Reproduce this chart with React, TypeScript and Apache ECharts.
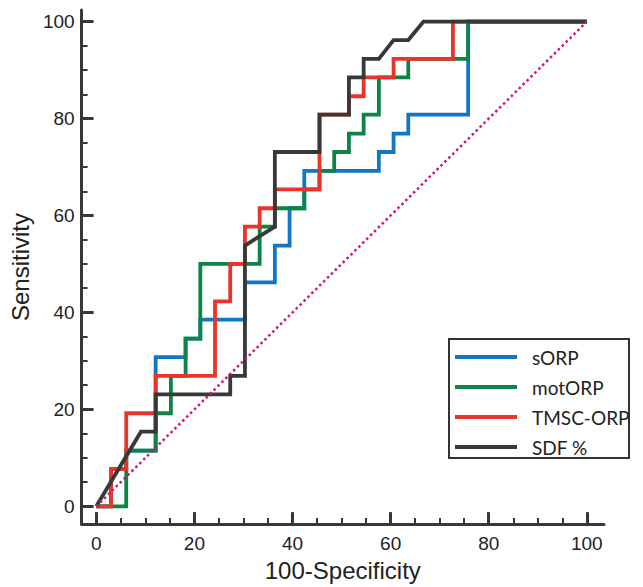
import React, { useEffect, useRef } from "react";
import * as echarts from "echarts";

const seriesNames = ["sORP", "motORP", "TMSC-ORP", "SDF %"];
const seriesColors = ["#1177c4", "#0c8445", "#e8352b", "#383838"];

const sorpPoints = [
  [0, 0], [3.0, 0], [3.0, 7.7], [6.1, 7.7], [6.1, 11.5], [12.1, 11.5], [12.1, 30.8],
  [18.2, 30.8], [18.2, 34.6], [21.2, 34.6], [21.2, 38.5], [30.3, 38.5], [30.3, 46.2],
  [36.4, 46.2], [36.4, 53.8], [39.4, 53.8], [39.4, 61.5], [42.4, 61.5], [42.4, 69.2],
  [57.6, 69.2], [57.6, 73.1], [60.6, 73.1], [60.6, 76.9], [63.6, 76.9], [63.6, 80.8],
  [75.8, 80.8], [75.8, 100], [100, 100],
];

const motorpPoints = [
  [0, 0], [6.1, 0], [6.1, 11.5], [12.1, 11.5], [12.1, 19.2], [15.2, 19.2], [15.2, 26.9],
  [18.2, 26.9], [18.2, 34.6], [21.2, 34.6], [21.2, 50], [33.3, 50], [33.3, 57.7],
  [36.4, 57.7], [36.4, 61.5], [42.4, 61.5], [42.4, 65.4], [45.5, 65.4], [45.5, 69.2],
  [48.5, 69.2], [48.5, 73.1], [51.5, 73.1], [51.5, 76.9], [54.5, 76.9], [54.5, 80.8],
  [57.6, 80.8], [57.6, 88.5], [63.6, 88.5], [63.6, 92.3], [75.8, 92.3], [75.8, 100],
  [100, 100],
];

const tmscPoints = [
  [0, 0], [3.0, 0], [3.0, 7.7], [6.1, 7.7], [6.1, 19.2], [12.1, 19.2], [12.1, 26.9],
  [24.2, 26.9], [24.2, 42.3], [27.3, 42.3], [27.3, 50], [30.3, 50], [30.3, 57.7],
  [33.3, 57.7], [33.3, 61.5], [36.4, 61.5], [36.4, 65.4], [45.5, 65.4], [45.5, 80.8],
  [51.5, 80.8], [51.5, 84.6], [54.5, 84.6], [54.5, 88.5], [60.6, 88.5], [60.6, 92.3],
  [72.7, 92.3], [72.7, 100], [100, 100],
];

const sdfPoints = [
  [0, 0], [9.1, 15.4], [12.1, 15.4], [12.1, 23.1], [27.3, 23.1], [27.3, 26.9],
  [30.3, 26.9], [30.3, 53.8], [36.4, 57.7], [36.4, 73.1], [45.5, 73.1], [45.5, 80.8],
  [51.5, 80.8], [51.5, 88.5], [54.5, 88.5], [54.5, 92.3], [57.6, 92.3], [60.6, 96.2],
  [63.6, 96.2], [66.7, 100], [100, 100],
];

const referencePoints = [[0, 0], [100, 100]];

const majorTicks = [0, 20, 40, 60, 80, 100];
const minorTicks = [5, 10, 15, 25, 30, 35, 45, 50, 55, 65, 70, 75, 85, 90, 95];

const X_MIN = -3;
const X_MAX = 103.5;
const Y_MIN = -3.67;
const Y_MAX = 102.4;

const AXIS_COLOR = "#383838";
const LABEL_FONT = "'Liberation Sans', Arial, sans-serif";

export default function App() {
  const ref = useRef<HTMLDivElement>(null);

  useEffect(() => {
    document.body.style.margin = "0";
    if (!ref.current) return;
    const chart = echarts.init(ref.current, null, { renderer: "svg" });

    const allSeries = [sorpPoints, motorpPoints, tmscPoints, sdfPoints];

    const mainAxisCommon = {
      type: "value",
      splitLine: { show: false },
      axisLine: { show: true, onZero: false, lineStyle: { color: AXIS_COLOR, width: 3 } },
      axisTick: {
        show: true,
        inside: true,
        length: 12,
        customValues: majorTicks,
        lineStyle: { color: AXIS_COLOR, width: 3 },
      },
      axisLabel: {
        show: true,
        customValues: majorTicks,
        color: "#222",
        fontSize: 19,
        fontFamily: LABEL_FONT,
      },
      nameTextStyle: { color: "#222", fontSize: 24, fontFamily: LABEL_FONT },
    };

    const minorAxisCommon = {
      type: "value",
      splitLine: { show: false },
      axisLine: { show: false, onZero: false },
      axisLabel: { show: false },
      axisTick: {
        show: true,
        inside: true,
        length: 6,
        customValues: minorTicks,
        lineStyle: { color: AXIS_COLOR, width: 2 },
      },
    };

    chart.setOption({
      animation: false,
      backgroundColor: "#fff",
      grid: { left: 80, right: 39, top: 10, bottom: 57, containLabel: false },
      xAxis: [
        {
          ...mainAxisCommon,
          min: X_MIN,
          max: X_MAX,
          position: "bottom",
          name: "100-Specificity",
          nameLocation: "middle",
          nameGap: 31,
          axisLabel: { ...mainAxisCommon.axisLabel, margin: 10 },
        },
        { ...minorAxisCommon, min: X_MIN, max: X_MAX, position: "bottom" },
      ],
      yAxis: [
        {
          ...mainAxisCommon,
          min: Y_MIN,
          max: Y_MAX,
          position: "left",
          name: "Sensitivity",
          nameLocation: "middle",
          nameGap: 49,
          nameRotate: 90,
          axisLabel: { ...mainAxisCommon.axisLabel, margin: 7 },
        },
        { ...minorAxisCommon, min: Y_MIN, max: Y_MAX, position: "left" },
      ],
      legend: {
        data: seriesNames,
        orient: "vertical",
        left: 455,
        top: 347,
        padding: 0,
        itemGap: 10,
        itemWidth: 62,
        itemHeight: 4,
        icon: "rect",
        textStyle: {
          fontSize: 19,
          fontFamily: "Lato, sans-serif",
          color: "#222",
          lineHeight: 20,
          padding: [0, 0, 0, 10],
        },
      },
      graphic: [
        {
          type: "rect",
          shape: { x: 449, y: 339, width: 180, height: 119 },
          style: { fill: "#fff", stroke: "#333", lineWidth: 2 },
          z: -1,
          zlevel: 0,
        },
      ],
      series: [
        ...allSeries.map((pts, i) => ({
          name: seriesNames[i],
          type: "line",
          data: pts,
          xAxisIndex: 0,
          yAxisIndex: 0,
          symbol: "none",
          showSymbol: false,
          color: seriesColors[i],
          lineStyle: { color: seriesColors[i], width: 3.8, join: "miter" },
          z: 2 + i,
        })),
        {
          name: "reference",
          type: "line",
          data: referencePoints,
          symbol: "none",
          showSymbol: false,
          color: "#c8197a",
          lineStyle: { color: "#c8197a", width: 2.5, type: [2.5, 3] },
          z: 10,
        },
      ],
    });

    return () => chart.dispose();
  }, []);

  return <div ref={ref} style={{ width: 643, height: 587 }} />;
}
